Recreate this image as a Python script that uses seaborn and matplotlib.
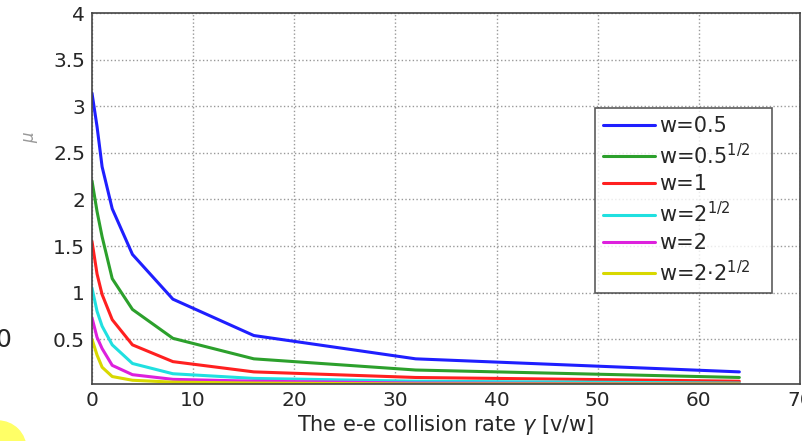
import numpy as np
import pandas as pd
import seaborn as sns
import matplotlib.pyplot as plt
from matplotlib.patches import Circle

# collision rate values (x) and the curves for each w
gamma = [0, 0.5, 1, 2, 4, 8, 16, 32, 64]
mu_w05 = [3.14, 2.78, 2.35, 1.90, 1.41, 0.93, 0.54, 0.29, 0.15]
mu_w05r = [2.20, 1.87, 1.60, 1.15, 0.82, 0.51, 0.29, 0.17, 0.09]
mu_w1 = [1.55, 1.20, 0.98, 0.71, 0.44, 0.26, 0.15, 0.09, 0.05]
mu_w2r = [1.05, 0.80, 0.64, 0.44, 0.24, 0.13, 0.08, 0.05, 0.03]
mu_w2 = [0.73, 0.52, 0.40, 0.22, 0.12, 0.07, 0.05, 0.03, 0.02]
mu_w22r = [0.50, 0.33, 0.20, 0.10, 0.06, 0.04, 0.03, 0.02, 0.02]

labels = ['w=0.5', 'w=0.5$^{1/2}$', 'w=1', 'w=2$^{1/2}$', 'w=2', 'w=2$\\cdot$2$^{1/2}$']
colours = ['#1f1fff', '#2ca02c', '#ff2020', '#20e0e0', '#dd20dd', '#d8d800']

series = [mu_w05, mu_w05r, mu_w1, mu_w2r, mu_w2, mu_w22r]
df = pd.concat([pd.DataFrame({'gamma': gamma, 'mu': s, 'w': lab})
                for s, lab in zip(series, labels)], ignore_index=True)

sns.set_style('white')
plt.rcParams['font.family'] = ['DejaVu Sans']
plt.rcParams['mathtext.fontset'] = 'dejavusans'

fig = plt.figure(figsize=(8.03, 4.41), dpi=100)
ax = fig.add_axes([92/803, 1-384/441, 708/803, 371/441])

sns.lineplot(data=df, x='gamma', y='mu', hue='w', palette=colours, linewidth=2.2, ax=ax)

ax.set_xlim(0, 70)
ax.set_ylim(0.02, 4)
ax.set_xticks(range(0, 71, 10))
ax.set_yticks(np.arange(0.5, 4.01, 0.5))
ax.set_yticklabels(['0.5', '1', '1.5', '2', '2.5', '3', '3.5', '4'])
ax.grid(True, linestyle=':', color='#999999', linewidth=1)
ax.tick_params(direction='in', labelsize=14.5, length=4, color='#555555', pad=5)
for sp in ax.spines.values():
    sp.set_color('#444444')
    sp.set_linewidth(1.2)

ax.set_xlabel('The e-e collision rate $\\gamma$ [v/w]', fontsize=15, labelpad=2)
ax.set_ylabel('')
fig.text(31/803, 1-137/441, '$\\mu$', rotation=90, fontsize=12, color='#999999',
         ha='center', va='center')

leg = ax.legend(loc='lower left', bbox_to_anchor=(0.71, 0.245, 0.25, 0.50), mode='expand',
                fontsize=15, handlelength=2.5, handletextpad=0.2, labelspacing=0.32,
                borderaxespad=0, frameon=True, fancybox=False, edgecolor='#333333', title=None)
leg.get_frame().set_linewidth(1.2)

# cropping remnants in the source picture
fig.text(11/803, 1-340/441, '0', fontsize=18, ha='right', va='center')
fig.patches.append(Circle((-2, -8), 28, transform=None, color='#ffff66', zorder=0))

fig.savefig('out.png', dpi=100)
